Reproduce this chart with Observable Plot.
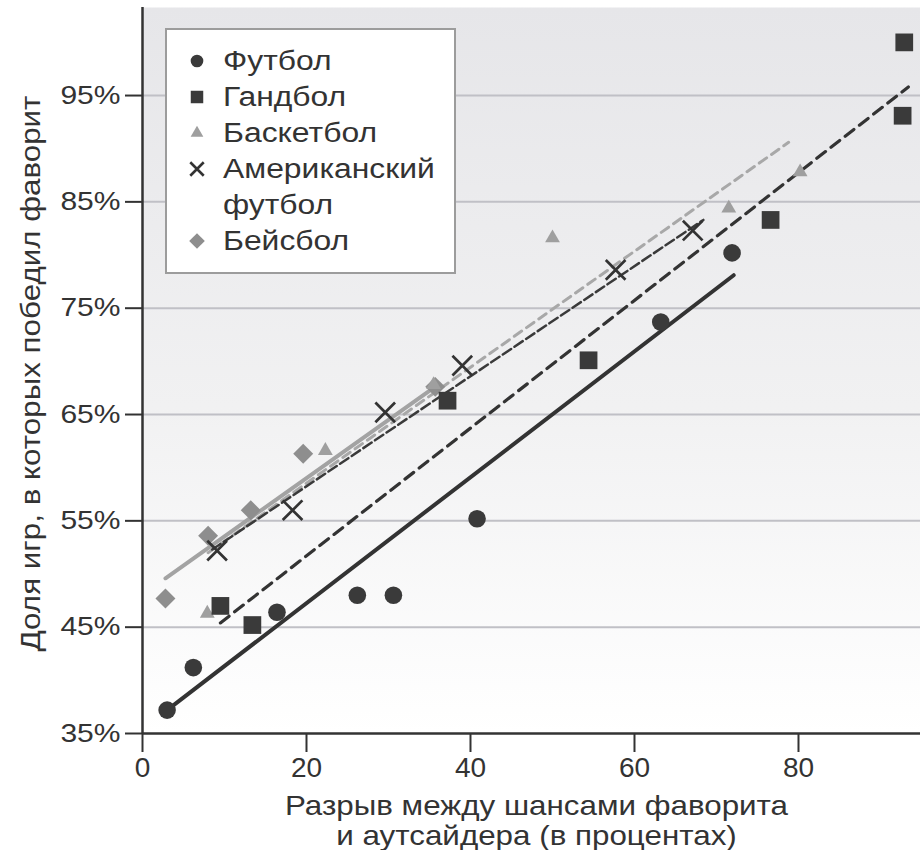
<!DOCTYPE html>
<html><head><meta charset="utf-8">
<script src="https://cdn.jsdelivr.net/npm/d3@7"></script>
<script src="https://cdn.jsdelivr.net/npm/@observablehq/plot@0.6"></script>
<style>
body{margin:0;background:#fff;}
#chart{position:relative;width:920px;height:850px;}
</style>
</head><body><div id="chart"></div>
<script>
// ---- data ----
const xTicks = [0, 20, 40, 60, 80];
const yTicks = [35, 45, 55, 65, 75, 85, 95];
const gridY = [45, 55, 65, 75, 85, 95];
const sports = ["Футбол", "Гандбол", "Баскетбол", "Американский\nфутбол", "Бейсбол"];
const xTitle = "Разрыв между шансами фаворита\nи аутсайдера (в процентах)";
const yTitle = "Доля игр, в которых победил фаворит";

const footballX = [3.0, 6.2, 16.4, 26.2, 30.6, 40.8, 63.2, 71.9];
const footballY = [37.2, 41.2, 46.4, 48.0, 48.0, 55.2, 73.7, 80.2];
const handballX = [9.5, 13.4, 37.2, 54.4, 76.6, 92.7, 92.9];
const handballY = [47.0, 45.2, 66.3, 70.1, 83.3, 93.1, 100.0];
const basketballX = [7.9, 22.3, 35.5, 50.0, 71.5, 80.2];
const basketballY = [46.3, 61.6, 67.8, 81.6, 84.4, 87.8];
const amFootballX = [9.1, 18.3, 29.6, 39.0, 57.7, 67.1];
const amFootballY = [52.2, 56.0, 65.2, 69.6, 78.6, 82.3];
const baseballX = [2.8, 8.0, 13.2, 19.6, 35.7];
const baseballY = [47.7, 53.6, 56.0, 61.3, 67.6];

// fitted trend lines (endpoints)
const fitFootballX = [3.0, 72.1], fitFootballY = [37.2, 78.1];
const fitHandballX = [9.5, 93.4], fitHandballY = [45.4, 95.8];
const fitBasketballX = [8.0, 78.8], fitBasketballY = [52.0, 90.6];
const fitAmFootballX = [8.5, 68.4], fitAmFootballY = [52.3, 83.3];
const fitBaseballX = [2.8, 35.5], fitBaseballY = [49.6, 67.5];

const pts = (xs, ys) => xs.map((x, i) => ({x, y: ys[i]}));

const DARK = "#3a3a3a", GRAY1 = "#9f9f9f", GRAY2 = "#8e8e8e";

const chart = Plot.plot({
  width: 920, height: 850,
  marginLeft: 142, marginRight: 0, marginTop: 7, marginBottom: 117,
  style: {fontFamily: "'Liberation Sans', Arial, sans-serif", fontSize: "28px", color: "#333", background: "#fff", overflow: "visible"},
  x: {domain: [0, 94.88], ticks: xTicks, tickSize: 19, tickPadding: 5, label: null},
  y: {domain: [35, 103.28], ticks: yTicks, tickSize: 17, tickPadding: 5, tickFormat: d => d + "%", label: null},
  marks: [
    Plot.frame({fill: "url(#bgGrad)"}),
    Plot.ruleY(gridY, {stroke: "#c0c0c6", strokeWidth: 2}),
    Plot.line(pts(fitBaseballX, fitBaseballY), {x: "x", y: "y", stroke: "#a3a3a3", strokeWidth: 4}),
    Plot.line(pts(fitBasketballX, fitBasketballY), {x: "x", y: "y", stroke: "#a8a8a8", strokeWidth: 3, strokeDasharray: "9,6"}),
    Plot.line(pts(fitAmFootballX, fitAmFootballY), {x: "x", y: "y", stroke: "#3a3a3a", strokeWidth: 2.5, strokeDasharray: "10,4"}),
    Plot.line(pts(fitHandballX, fitHandballY), {x: "x", y: "y", stroke: "#333", strokeWidth: 3.2, strokeDasharray: "11,7"}),
    Plot.line(pts(fitFootballX, fitFootballY), {x: "x", y: "y", stroke: "#333", strokeWidth: 4}),
    Plot.dot(pts(baseballX, baseballY), {x: "x", y: "y", symbol: "diamond2", r: 9, fill: GRAY2, stroke: "none"}),
    Plot.dot(pts(basketballX, basketballY), {x: "x", y: "y", symbol: "triangle", r: 5.5, fill: GRAY1, stroke: "none"}),
    Plot.dot(pts(handballX, handballY), {x: "x", y: "y", symbol: "square", r: 10, fill: DARK, stroke: "none"}),
    Plot.dot(pts(footballX, footballY), {x: "x", y: "y", symbol: "circle", r: 8.8, fill: DARK, stroke: "none"}),
    Plot.dot(pts(amFootballX, amFootballY), {x: "x", y: "y", symbol: "times", r: 9, stroke: "#333", strokeWidth: 2.7}),
    Plot.ruleX([0], {stroke: "#333", strokeWidth: 2.5}),
    Plot.ruleY([35], {stroke: "#333", strokeWidth: 2.5}),
    Plot.text([xTitle], {text: d => d, frameAnchor: "bottom", textAnchor: "middle", dy: 60, dx: 5, lineAnchor: "top", lineHeight: 1.07, fontSize: 28, fill: "#333"}),
    Plot.text([yTitle], {text: d => d, frameAnchor: "left", textAnchor: "middle", lineAnchor: "middle", dx: -111, dy: 3, rotate: -90, fontSize: 28, fill: "#333"})
  ]
});

document.getElementById("chart").appendChild(chart);
const svg = d3.select(chart);

// gradient background
const defs = svg.insert("defs", ":first-child");
const grad = defs.append("linearGradient").attr("id", "bgGrad")
  .attr("x1", 0).attr("y1", 0).attr("x2", 0).attr("y2", 1);
grad.append("stop").attr("offset", "0").attr("stop-color", "#e6e6e9");
grad.append("stop").attr("offset", "0.55").attr("stop-color", "#f1f1f2");
grad.append("stop").attr("offset", "1").attr("stop-color", "#ffffff");

// axis tick strokes
svg.selectAll('g[aria-label*="axis"]').selectAll("line,path").attr("stroke-width", 2).attr("stroke", "#333");

function stretch(sel, k) {
  sel.each(function () {
    const L = this.getComputedTextLength();
    if (L > 0) {
      this.setAttribute("textLength", (L * k).toFixed(1));
      this.setAttribute("lengthAdjust", "spacingAndGlyphs");
    }
  });
}
function scaleX(sel, k) {
  sel.each(function () {
    const tr = this.getAttribute("transform") || "";
    this.setAttribute("transform", (tr + ` scale(${k},1)`).trim());
  });
}

// y tick labels
const yLabels = svg.selectAll("text").filter(function () { return /%$/.test(this.textContent.trim()); });
yLabels.attr("font-size", 25).style("font-size", "25px").attr("fill", "#333");
stretch(yLabels, 1.2);

// axis titles
scaleX(svg.selectAll("text").filter(function () { return this.textContent.startsWith("Разрыв"); }), 1.12);
scaleX(svg.selectAll("text").filter(function () { return this.textContent.startsWith("Доля"); }), 1.12);

// legend
const lg = svg.append("g").attr("transform", "translate(165,28)").attr("text-anchor", "start");
lg.append("rect").attr("x", 1).attr("y", 1).attr("width", 289).attr("height", 244)
  .attr("fill", "#fff").attr("stroke", "#9c9c9c").attr("stroke-width", 2);
const legendSymbols = [
  {type: d3.symbolCircle, size: Math.PI * 40, fill: DARK},
  {type: d3.symbolSquare, size: 156, fill: DARK},
  {type: d3.symbolTriangle, size: 70, fill: GRAY1},
  {type: d3.symbolTimes, size: 120, stroke: "#333"},
  {type: d3.symbolDiamond2, size: 156, fill: GRAY2}
];
let line = 0;
sports.forEach((name, i) => {
  const base = 42 + 36 * line;
  const s = legendSymbols[i];
  lg.append("path").attr("d", d3.symbol().type(s.type).size(s.size)())
    .attr("transform", `translate(32,${base - 9})`)
    .attr("fill", s.fill || "none").attr("stroke", s.stroke || "none").attr("stroke-width", s.stroke ? 2.6 : 0);
  name.split("\n").forEach((part) => {
    const t = lg.append("text").attr("x", 58).attr("y", 42 + 36 * line)
      .attr("text-anchor", "start")
      .attr("font-size", 27).attr("fill", "#333").text(part);
    stretch(t, 1.18);
    line++;
  });
});
</script>
</body></html>
